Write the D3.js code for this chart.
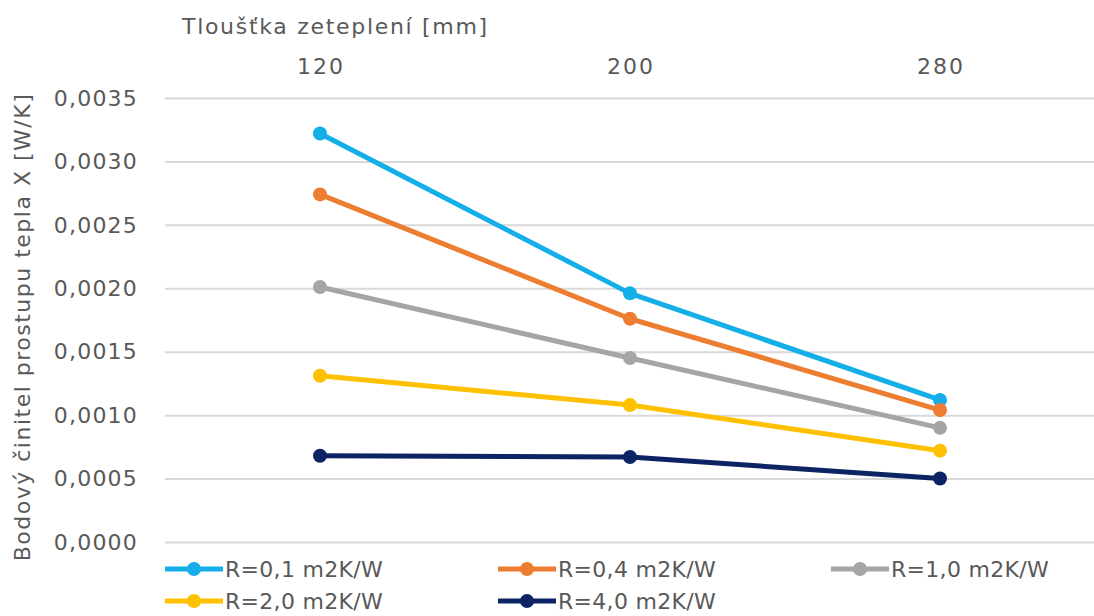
<!DOCTYPE html>
<meta charset="utf-8">
<style>
    body { margin: 0; background: #fff; }
    text { font-family: "DejaVu Sans", sans-serif; fill: #595959; }
    .grid line { stroke: #d9d9d9; stroke-width: 2px; }
    .grid path { display: none; }
</style>

<svg width="1094" height="616"></svg>

<script src="https://cdn.jsdelivr.net/npm/d3@7"></script>
<script>
    // tloušťka zateplení na ose x (nahoře)
    var thickness = ["120", "200", "280"];
    var seriesNames = ["R=0,1 m2K/W", "R=0,4 m2K/W", "R=1,0 m2K/W", "R=2,0 m2K/W", "R=4,0 m2K/W"];
    var seriesColors = ["#14aee8", "#ed7d31", "#a5a5a5", "#ffc000", "#0c2463"];
    var r01 = [0.00322, 0.00196, 0.00112];
    var r04 = [0.00274, 0.00176, 0.00104];
    var r10 = [0.00201, 0.00145, 0.00090];
    var r20 = [0.00131, 0.00108, 0.00072];
    var r40 = [0.00068, 0.00067, 0.00050];
    var yTicks = [0, 0.0005, 0.001, 0.0015, 0.002, 0.0025, 0.003, 0.0035];

    (function () {
        var svg = d3.select("svg"),
            left = 165, right = 1095, top = 98, bottom = 542,
            values = [r01, r04, r10, r20, r40],
            fs = 22;

        var x = d3.scalePoint()
            .domain(thickness)
            .range([left, right])
            .padding(0.5);

        var y = d3.scaleLinear()
            .domain([0, 0.0035])
            .range([bottom, top]);

        var fmt = function (d) { return d3.format(".4f")(d).replace(".", ","); };

        // mřížka
        svg.append("g")
            .attr("class", "grid")
            .attr("transform", "translate(" + left + ",0)")
            .call(d3.axisRight(y).tickValues(yTicks).tickSize(right - left).tickFormat(""));

        // popisky osy y
        svg.append("g")
            .selectAll("text")
            .data(yTicks)
            .enter()
            .append("text")
            .attr("x", 138)
            .attr("y", function (d) { return y(d); })
            .attr("dy", "0.35em")
            .attr("text-anchor", "end")
            .attr("font-size", fs)
            .attr("letter-spacing", 1.2)
            .text(fmt);

        // kategorie nahoře
        svg.append("g")
            .selectAll("text")
            .data(thickness)
            .enter()
            .append("text")
            .attr("x", function (d) { return x(d) + 1; })
            .attr("y", 74)
            .attr("text-anchor", "middle")
            .attr("font-size", fs)
            .attr("letter-spacing", 2)
            .text(function (d) { return d; });

        svg.append("text")
            .attr("x", 182)
            .attr("y", 34)
            .attr("font-size", fs)
            .attr("letter-spacing", 1.7)
            .text("Tloušťka zeteplení [mm]");

        svg.append("text")
            .attr("transform", "translate(30," + 327 + ") rotate(-90)")
            .attr("text-anchor", "middle")
            .attr("font-size", fs)
            .attr("letter-spacing", 1.5)
            .text("Bodový činitel prostupu tepla X [W/K]");

        var line = d3.line()
            .x(function (d, i) { return x(thickness[i]); })
            .y(function (d) { return y(d); });

        var series = svg.append("g")
            .selectAll("g")
            .data(values)
            .enter()
            .append("g");

        series.append("path")
            .attr("d", line)
            .attr("fill", "none")
            .attr("stroke", function (d, i) { return seriesColors[i]; })
            .attr("stroke-width", 5)
            .attr("stroke-linejoin", "round");

        series.each(function (vals, si) {
            d3.select(this).selectAll("circle")
                .data(vals)
                .enter()
                .append("circle")
                .attr("cx", function (d, i) { return x(thickness[i]); })
                .attr("cy", function (d) { return y(d); })
                .attr("r", 7)
                .attr("fill", seriesColors[si]);
        });

        // legenda
        var legend = svg.append("g")
            .selectAll("g")
            .data(seriesNames)
            .enter()
            .append("g")
            .attr("transform", function (d, i) {
                return "translate(" + (165 + (i % 3) * 333) + "," + (569 + Math.floor(i / 3) * 32) + ")";
            });

        legend.append("line")
            .attr("x1", 0).attr("x2", 58)
            .attr("stroke", function (d, i) { return seriesColors[i]; })
            .attr("stroke-width", 5);

        legend.append("circle")
            .attr("cx", 29)
            .attr("r", 7)
            .attr("fill", function (d, i) { return seriesColors[i]; });

        legend.append("text")
            .attr("x", 60)
            .attr("dy", "0.35em")
            .attr("font-size", fs)
            .attr("letter-spacing", 0.3)
            .text(function (d) { return d; });
    })();
</script>
